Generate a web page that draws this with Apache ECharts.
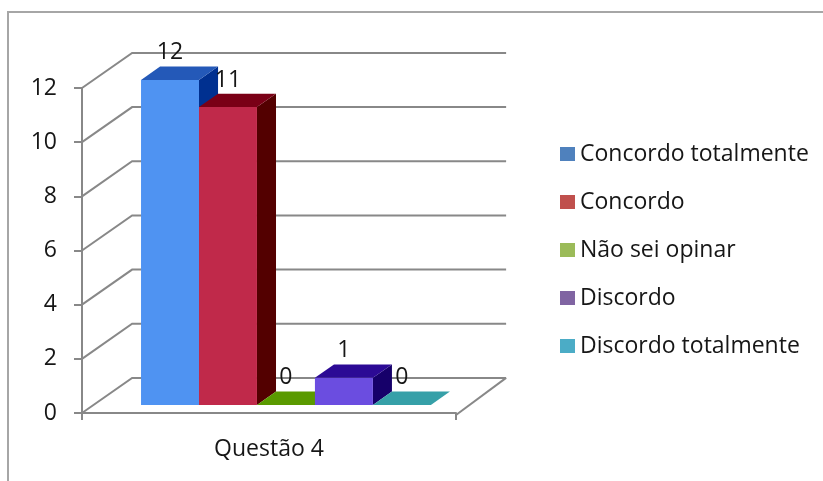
<!DOCTYPE html>
<html>
<head>
<meta charset="utf-8">
<script src="https://cdn.jsdelivr.net/npm/echarts@6/dist/echarts.min.js"></script>
<style>
html,body{margin:0;padding:0;background:#fff;}
#chart{width:823px;height:481px;}
</style>
</head>
<body>
<div id="chart"></div>
<script>
const categories = ['Questão 4'];
const seriesNames = ['Concordo totalmente', 'Concordo', 'Não sei opinar', 'Discordo', 'Discordo totalmente'];
const seriesValues = [12, 11, 0, 1, 0];
const yTicks = [0, 2, 4, 6, 8, 10, 12];
const legendColors = ['#4F81BD', '#C0504D', '#9BBB59', '#8064A2', '#4BACC6'];
const frontColors = ['#4F93F2', '#C0294A', '#5EA800', '#6B4DE0', '#3AB0B8'];
const topColors = ['#2459B8', '#7A0016', '#5A9A00', '#2C0A95', '#36A0A8'];
const sideColors = ['#003090', '#530000', '#2E5A00', '#16006A', '#1C6870'];

const FONT = '"Open Sans", sans-serif';
const TXT = '#161616';
const GRID_COLOR = '#888';

function depth(cs) {
  return { dx: cs.width * 0.134, dy: cs.height * 0.108 };
}

function wallRender(params, api) {
  const cs = params.coordSys;
  const d = depth(cs);
  const v = api.value(1);
  const y = api.coord([0, v])[1];
  const x0 = cs.x, xR = cs.x + cs.width;
  const children = [{
    type: 'polyline',
    shape: { points: [[x0, y], [x0 + d.dx, y - d.dy], [xR + d.dx, y - d.dy]] },
    style: { stroke: GRID_COLOR, lineWidth: 2, fill: null }
  }];
  if (v === 0) {
    children.push({
      type: 'line',
      shape: { x1: xR, y1: y + 2, x2: xR + d.dx, y2: y - d.dy },
      style: { stroke: GRID_COLOR, lineWidth: 2 }
    });
  }
  return { type: 'group', children: children };
}

function makeBarRender(i) {
  return function (params, api) {
    const cs = params.coordSys;
    const d = depth(cs);
    const bandW = api.size([1, 0])[0];
    const barW = bandW * 0.155;
    const sx = 0.23 * d.dx, sy = 0.23 * d.dy;
    const bdx = 0.38 * d.dx, bdy = 0.38 * d.dy;
    const x0 = cs.x + 0.127 * bandW + sx + i * barW;
    const x1 = x0 + barW;
    const yBase = api.coord([api.value(0), 0])[1] - sy;
    const yTop = api.coord([api.value(0), api.value(1)])[1] - sy;
    const children = [];
    if (yBase - yTop > 0.5) {
      children.push({
        type: 'polygon',
        shape: { points: [[x1, yTop], [x1 + bdx, yTop - bdy], [x1 + bdx, yBase - bdy], [x1, yBase]] },
        style: { fill: sideColors[i] }
      });
      children.push({
        type: 'rect',
        shape: { x: x0, y: yTop, width: barW, height: yBase - yTop },
        style: { fill: frontColors[i] }
      });
    }
    children.push({
      type: 'polygon',
      shape: { points: [[x0, yTop], [x0 + bdx, yTop - bdy], [x1 + bdx, yTop - bdy], [x1, yTop]] },
      style: { fill: topColors[i] }
    });
    children.push({
      type: 'text',
      style: {
        x: (x0 + x1) / 2, y: yTop - 27,
        text: String(api.value(1)),
        font: '23px ' + FONT, fill: TXT,
        align: 'center', verticalAlign: 'middle'
      },
      z2: 10
    });
    return { type: 'group', children: children };
  };
}

const series = [{
  type: 'custom',
  name: 'wall',
  renderItem: wallRender,
  data: yTicks.map(v => [0, v]),
  z: 1,
  silent: true
}];
seriesNames.forEach((name, i) => {
  series.push({
    type: 'custom',
    name: name,
    renderItem: makeBarRender(i),
    itemStyle: { color: legendColors[i] },
    data: [[0, seriesValues[i]]],
    z: 2 + i
  });
});

const chart = echarts.init(document.getElementById('chart'), null, { renderer: 'canvas' });
chart.setOption({
  animation: false,
  backgroundColor: '#fff',
  textStyle: { fontFamily: FONT },
  grid: { left: 82, right: 367, top: 88, bottom: 68 },
  graphic: [{
    type: 'polyline',
    shape: { points: [[8, 490], [8, 12], [830, 12]] },
    style: { stroke: '#a6a6a6', lineWidth: 2, fill: null },
    silent: true
  }],
  legend: {
    orient: 'vertical',
    left: 555,
    top: 136,
    itemWidth: 15,
    itemHeight: 14,
    itemGap: 22,
    itemTextGap: 6,
    icon: 'rect',
    data: seriesNames,
    textStyle: { fontFamily: FONT, fontSize: 23, color: TXT, lineHeight: 26 }
  },
  xAxis: {
    type: 'category',
    data: categories,
    boundaryGap: true,
    axisLine: { show: true, lineStyle: { color: GRID_COLOR, width: 2 } },
    axisTick: { show: true, length: 7, lineStyle: { color: GRID_COLOR, width: 2 } },
    axisLabel: { fontFamily: FONT, fontSize: 23, color: TXT, margin: 25 }
  },
  yAxis: {
    type: 'value',
    min: 0, max: 12, interval: 2,
    axisLine: { show: true, lineStyle: { color: GRID_COLOR, width: 2 } },
    axisTick: { show: true, length: 8, lineStyle: { color: GRID_COLOR, width: 2 } },
    axisLabel: { fontFamily: FONT, fontSize: 23, color: TXT, margin: 25 },
    splitLine: { show: false }
  },
  series: series
});
</script>
</body>
</html>
